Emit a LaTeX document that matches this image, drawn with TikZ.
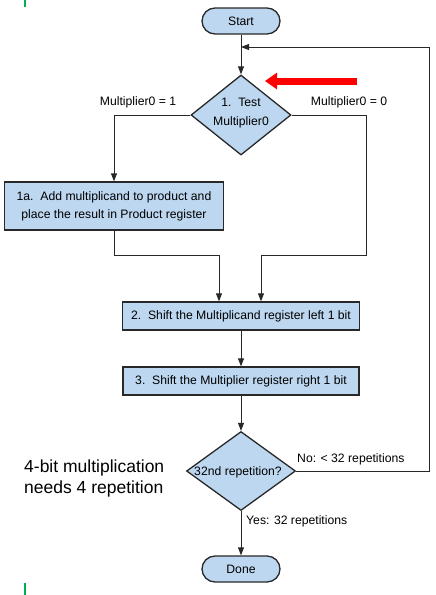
\documentclass[tikz,border=0pt]{standalone}
\usepackage{fontspec}
\setmainfont{Liberation Sans}
\usetikzlibrary{shapes.geometric,arrows.meta}
\definecolor{boxblue}{RGB}{189,215,240}
\definecolor{markgreen}{RGB}{0,176,80}
\definecolor{edge}{RGB}{40,40,40}
\begin{document}
\begin{tikzpicture}[x=1pt,y=-1pt,
  txt/.style={inner sep=0pt, align=center, font=\fontsize{12.2}{18}\selectfont},
  box/.style={txt, draw=edge, line width=1.3pt, fill=boxblue},
  term/.style={box, rounded corners=13pt, minimum width=78pt, minimum height=26pt},
  dia/.style={diamond, box},
  arr/.style={draw=edge, line width=0.9pt, -{Triangle[length=8pt,width=6pt]}},
  lab/.style={inner sep=0pt, font=\fontsize{12.2}{14}\selectfont}]
\useasboundingbox (0,0) rectangle (436,595);

\node[term] (start) at (241,21) {Start};
\node[dia, minimum width=100pt, minimum height=80pt] (d1) at (241,115) {};
\node[txt, font=\fontsize{12.2}{19}\selectfont] (d1t) at (241,113) {1.\ \ Test\\Multiplier0};
\node[box, minimum width=219pt, minimum height=48pt] (b1a) at (114,206)
  {1a.\ \ Add multiplicand to product and\\place the result in Product register};
\node[box, minimum width=237pt, minimum height=28pt] (b2) at (241,316)
  {2.\ \ Shift the Multiplicand register left 1 bit};
\node[box, minimum width=236pt, minimum height=28pt] (b3) at (241,381)
  {3.\ \ Shift the Multiplier register right 1 bit};
\node[dia, minimum width=109pt, minimum height=79pt] (d2) at (241,471) {};
\node[txt] (d2t) at (238,472) {32nd repetition?};
\node[term] (done) at (241,569) {Done};

\node[lab] (l1) at (138,102) {Multiplier0 = 1};
\node[lab] (l0) at (349,102) {Multiplier0 = 0};
\node[lab, anchor=west] (lno) at (297,459) {No: < 32 repetitions};
\node[lab, anchor=west] (lyes) at (246,521) {Yes: 32 repetitions};

\node[anchor=west, align=left, inner sep=0pt, font=\fontsize{17.5}{21}\selectfont] (note) at (24,478.5)
  {4-bit multiplication\\needs 4 repetition};

\coordinate (join) at (241,47);
\coordinate (loop) at (429,47);
\coordinate (rr) at (366,255);
\coordinate (r2) at (261,255);
\coordinate (ll) at (114,255);
\coordinate (l2) at (219,255);

\draw[arr] (start) -- (d1);
\draw[arr] (d1.west) -| (b1a.north);
\draw[arr] (d1.east) -| (rr) -- (r2) -- (r2 |- b2.north);
\draw[arr] (b1a.south) -- (ll) -- (l2) -- (l2 |- b2.north);
\draw[arr] (b2) -- (b3);
\draw[arr] (b3) -- (d2);
\draw[arr] (d2) -- (done);
\draw[arr] (d2.east) -| (loop) -- (join);

\draw[red, line width=7pt, -{Triangle[length=12pt,width=16pt]}] (357,81) -- (265,81);

\draw[markgreen, line width=1.5pt] (25,0) -- (25,7);
\draw[markgreen, line width=1.5pt] (25,583) -- (25,595);
\end{tikzpicture}
\end{document}
